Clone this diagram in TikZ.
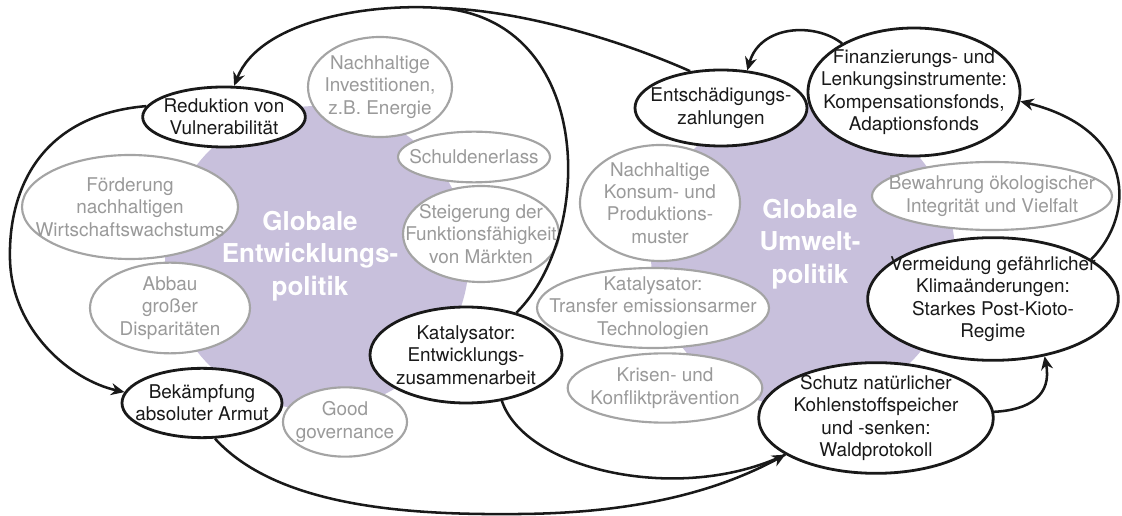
\documentclass[tikz,border=0pt]{standalone}
\usepackage{fontspec}
\setmainfont{TeX Gyre Heros}
\usetikzlibrary{shapes.geometric,arrows.meta}
\definecolor{lavender}{HTML}{C8C0DC}
\definecolor{softgray}{HTML}{A4A4A4}
\definecolor{greytext}{HTML}{9A9A9A}

\begin{document}
\begin{tikzpicture}[x=7.5pt, y=-7.5pt,
  blob/.style={circle, fill=lavender, minimum size=228pt, inner sep=0pt},
  title/.style={text=white, align=center, font=\fontsize{19.5}{24.4}\selectfont\bfseries},
  key/.style 2 args={ellipse, draw=black!90, line width=2.1pt, fill=white, text=black!90, inner xsep=-30pt, inner ysep=-25pt, align=center,
    minimum width=#1, minimum height=#2, font=\fontsize{14.2}{16.8}\selectfont},
  side/.style 2 args={ellipse, draw=softgray, line width=1.6pt, fill=white, text=greytext, inner xsep=-30pt, inner ysep=-25pt, align=center,
    minimum width=#1, minimum height=#2, font=\fontsize{14.2}{16.8}\selectfont},
  link/.style={line width=1.9pt, black!90},
  arr/.style={link, -{Stealth[length=10pt, width=9pt]}}
]
  \useasboundingbox (0,0) rectangle (112.2,51.6);

  % the two policy fields
  \node[blob] (entw) at (31.7,25.8) {};
  \node[blob] (umwelt) at (80.3,25.5) {};

  % development policy
  \node[side={108pt}{75pt}] (invest) at (38.0,8.7) {Nachhaltige\\Investitionen,\\z.B. Energie};
  \node[side={114pt}{38pt}] (schuld) at (47.4,15.7) {Schuldenerlass};
  \node[side={117pt}{72pt}] (maerkte) at (48.1,23.4) {Steigerung der\\Funktionsfähigkeit\\von Märkten};
  \node[side={162pt}{78pt}] (wachstum) at (13.0,20.7) {Förderung\\nachhaltigen\\Wirtschaftswachstums};
  \node[side={120pt}{68pt}] (dispar) at (17.0,30.8) {Abbau\\großer\\Disparitäten};
  \node[side={93pt}{52pt}] (govern) at (34.5,42.2) {Good\\governance};

  % environmental policy
  \node[side={120pt}{87pt}] (konsum) at (66.0,20.3) {Nachhaltige\\Konsum- und\\Produktions-\\muster};
  \node[side={174pt}{60pt}] (transfer) at (65.3,30.8) {Katalysator:\\Transfer emissionsarmer\\Technologien};
  \node[side={146pt}{52pt}] (krisen) at (66.5,38.8) {Krisen- und\\Konfliktprävention};
  \node[side={180pt}{51pt}] (vielfalt) at (99.2,19.6) {Bewahrung ökologischer\\Integrität und Vielfalt};

  % linked goals
  \node[key={122pt}{45pt}] (vuln) at (22.4,11.7) {Reduktion von\\Vulnerabilität};
  \node[key={120pt}{52pt}] (armut) at (20.2,40.3) {Bekämpfung\\absoluter Armut};
  \node[key={144pt}{72pt}] (ez) at (46.6,35.5) {Katalysator:\\Entwicklungs-\\zusammenarbeit};
  \node[key={129pt}{57pt}] (entsch) at (72.1,10.8) {Entschädigungs-\\zahlungen};
  \node[key={159pt}{96pt}] (fonds) at (91.4,9.2) {Finanzierungs- und\\Lenkungsinstrumente:\\Kompensationsfonds,\\Adaptionsfonds};
  \node[key={188pt}{92pt}] (kioto) at (99.3,29.9) {Vermeidung gefährlicher\\Klimaänderungen:\\Starkes Post-Kioto-\\Regime};
  \node[key={176pt}{83pt}] (wald) at (87.6,41.8) {Schutz natürlicher\\Kohlenstoffspeicher\\und -senken:\\Waldprotokoll};

  \node[title] (entwtxt) at (31.0,25.6) {Globale\\Entwicklungs-\\politik};
  \node[title] (umwelttxt) at (81.0,24.4) {Globale\\Umwelt-\\politik};

  % connectors
  \coordinate (crest) at (44.0,0.8);
  \draw[link] (ez.40) .. controls (59.5,23.5) and (59.5,2.0) .. (crest);
  \draw[link] (entsch.130) .. controls (62.0,4.0) and (52.0,1.0) .. (crest);
  \draw[arr] (crest) .. controls (37.0,0.3) and (26.0,2.0) .. (vuln.72);
  \draw[arr] (vuln.172) .. controls (4.0,11.5) and (0.8,19.0) .. (1.0,26.0)
    .. controls (1.2,33.0) and (7.0,38.0) .. (armut.172);
  \draw[arr] (armut.290) .. controls (28.0,51.0) and (42.0,51.5) .. (52.0,51.4)
    .. controls (64.0,51.3) and (72.0,49.0) .. (wald.202);
  \draw[link] (ez.308) .. controls (52.5,47.0) and (68.0,50.5) .. (wald.202);
  \draw[arr] (wald.3) .. controls (103.0,41.0) and (105.2,39.5) .. (kioto.-48);
  \draw[arr] (kioto.22) .. controls (113.6,21.5) and (113.6,13.0) .. (fonds.-5);
  \draw[arr] (fonds.146) .. controls (81.5,2.2) and (76.0,2.5) .. (entsch.55);
\end{tikzpicture}
\end{document}
